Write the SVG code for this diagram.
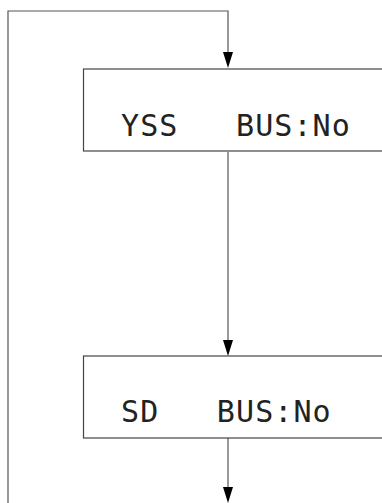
<svg xmlns="http://www.w3.org/2000/svg" width="382" height="503" viewBox="0 0 382 503">
<style>
.box{fill:#fff;stroke:#444;stroke-width:1.2}
.line{fill:none;stroke:#555;stroke-width:1.2}
.head{fill:#000}
.lcd{font-family:"DejaVu Sans Mono","Liberation Mono",monospace;font-size:30px;letter-spacing:1.1px;fill:#222;white-space:pre}
</style>
<rect width="382" height="503" fill="#fff"/>
<g id="connectors">
<path class="line" d="M8,503 V11 H228 V52"/>
<polygon class="head" points="223,52 233,52 228,68"/>
<path class="line" d="M228,152 V340"/>
<polygon class="head" points="223,340 233,340 228,356"/>
<path class="line" d="M228,438 V488"/>
<polygon class="head" points="223,487 233,487 228,503"/>
</g>
<g id="node-yss">
<rect class="box" x="83.5" y="69" width="310" height="82"/>
<text class="lcd" x="121" y="136" xml:space="preserve">YSS   BUS:No</text>
</g>
<g id="node-sd">
<rect class="box" x="83.5" y="356" width="310" height="82"/>
<text class="lcd" x="121" y="422" xml:space="preserve">SD   BUS:No</text>
</g>
</svg>
